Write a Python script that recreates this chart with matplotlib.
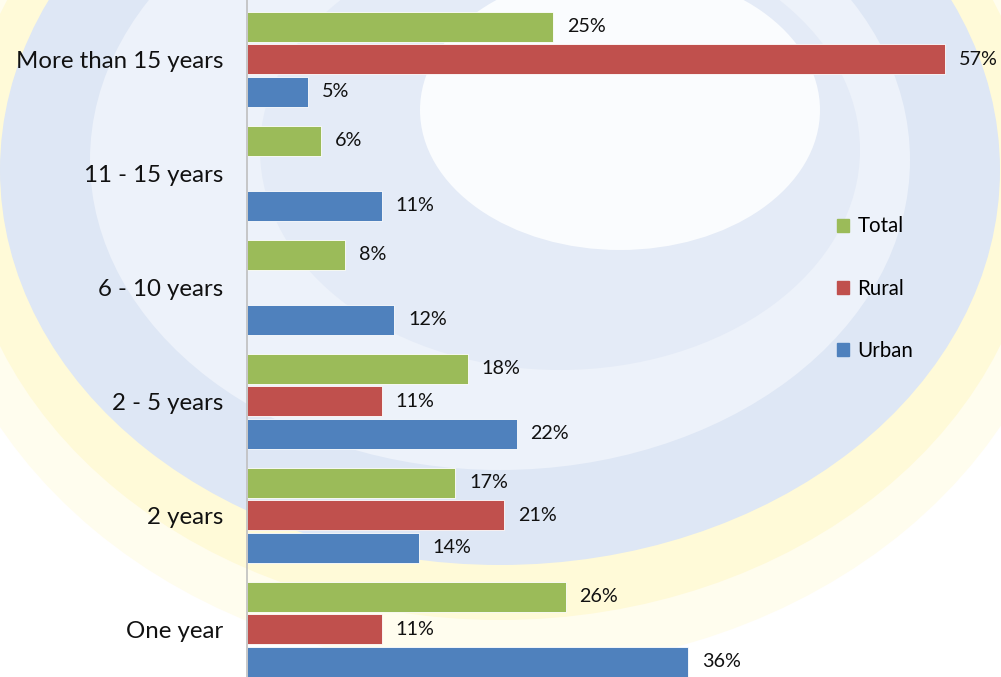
import matplotlib
matplotlib.use("Agg")
import matplotlib.pyplot as plt
from matplotlib.patches import Ellipse, Rectangle
import numpy as np

categories = ["One year", "2 years", "2 - 5 years", "6 - 10 years", "11 - 15 years", "More than 15 years"]
total = [26, 17, 18, 8, 6, 25]
rural = [11, 21, 11, None, None, 57]
urban = [36, 14, 22, 12, 11, 5]
colors = {"Total": "#9BBB59", "Rural": "#C0504D", "Urban": "#4F81BD"}

W, H = 1001, 677
fig = plt.figure(figsize=(W / 100, H / 100), dpi=100)
fig.patch.set_facecolor("white")

# faint watermark background
bg = fig.add_axes([0, 0, 1, 1], zorder=0)
bg.set_xlim(0, W)
bg.set_ylim(H, 0)
bg.axis("off")
bg.add_patch(Ellipse((500, 190), 1150, 960, facecolor="#FFFDEE", edgecolor="none"))
bg.add_patch(Ellipse((500, 180), 1080, 880, facecolor="#FFFAD8", edgecolor="none"))
bg.add_patch(Ellipse((500, 170), 1000, 790, facecolor="#DEE7F5", edgecolor="none"))
bg.add_patch(Ellipse((500, 160), 820, 620, facecolor="#EDF2FA", edgecolor="none"))
bg.add_patch(Ellipse((560, 150), 600, 440, facecolor="#E4EBF7", edgecolor="none"))
bg.add_patch(Ellipse((620, 110), 400, 280, facecolor="#FAFCFE", edgecolor="none"))

ax = fig.add_axes([247 / W, 0, (W - 247) / W, 1], zorder=1)
ax.patch.set_alpha(0)
x_per_pct = 12.25
ax.set_xlim(0, (W - 247) / x_per_pct)
ax.set_ylim(-0.42, 5.52)

y = np.arange(len(categories))
offsets = {"Total": 0.285, "Rural": 0.0, "Urban": -0.285}
bh = 0.265
data = {"Total": total, "Rural": rural, "Urban": urban}
for name in ["Total", "Rural", "Urban"]:
    vals = data[name]
    for yi, v in zip(y, vals):
        if v is None:
            continue
        ax.barh(yi + offsets[name], v, height=bh, color=colors[name],
                edgecolor="white", linewidth=0.6)
        ax.text(v + 1.15, yi + offsets[name], f"{v}%", va="center", ha="left",
                fontsize=14.2, family="Lato", color="#111111", clip_on=False)

ax.set_yticks(y)
ax.set_yticklabels(categories, fontsize=17.3, family="Lato", color="#111111")
ax.tick_params(axis="y", length=0, pad=17)
ax.set_xticks([])
for s in ["top", "right", "bottom"]:
    ax.spines[s].set_visible(False)
ax.spines["left"].set_color("#BFBFBF")
ax.spines["left"].set_linewidth(1.2)

# legend
handles = [Rectangle((0, 0), 1, 1, color=colors[n]) for n in ["Total", "Rural", "Urban"]]
leg = fig.legend(handles, ["Total", "Rural", "Urban"], loc="upper left",
                 bbox_to_anchor=(818 / W, 1 - 198 / H), frameon=False,
                 prop={"family": "Lato", "size": 14.8}, labelspacing=2.05,
                 handlelength=0.62, handleheight=0.62, handletextpad=0.4)

fig.savefig("out.png", dpi=100)
